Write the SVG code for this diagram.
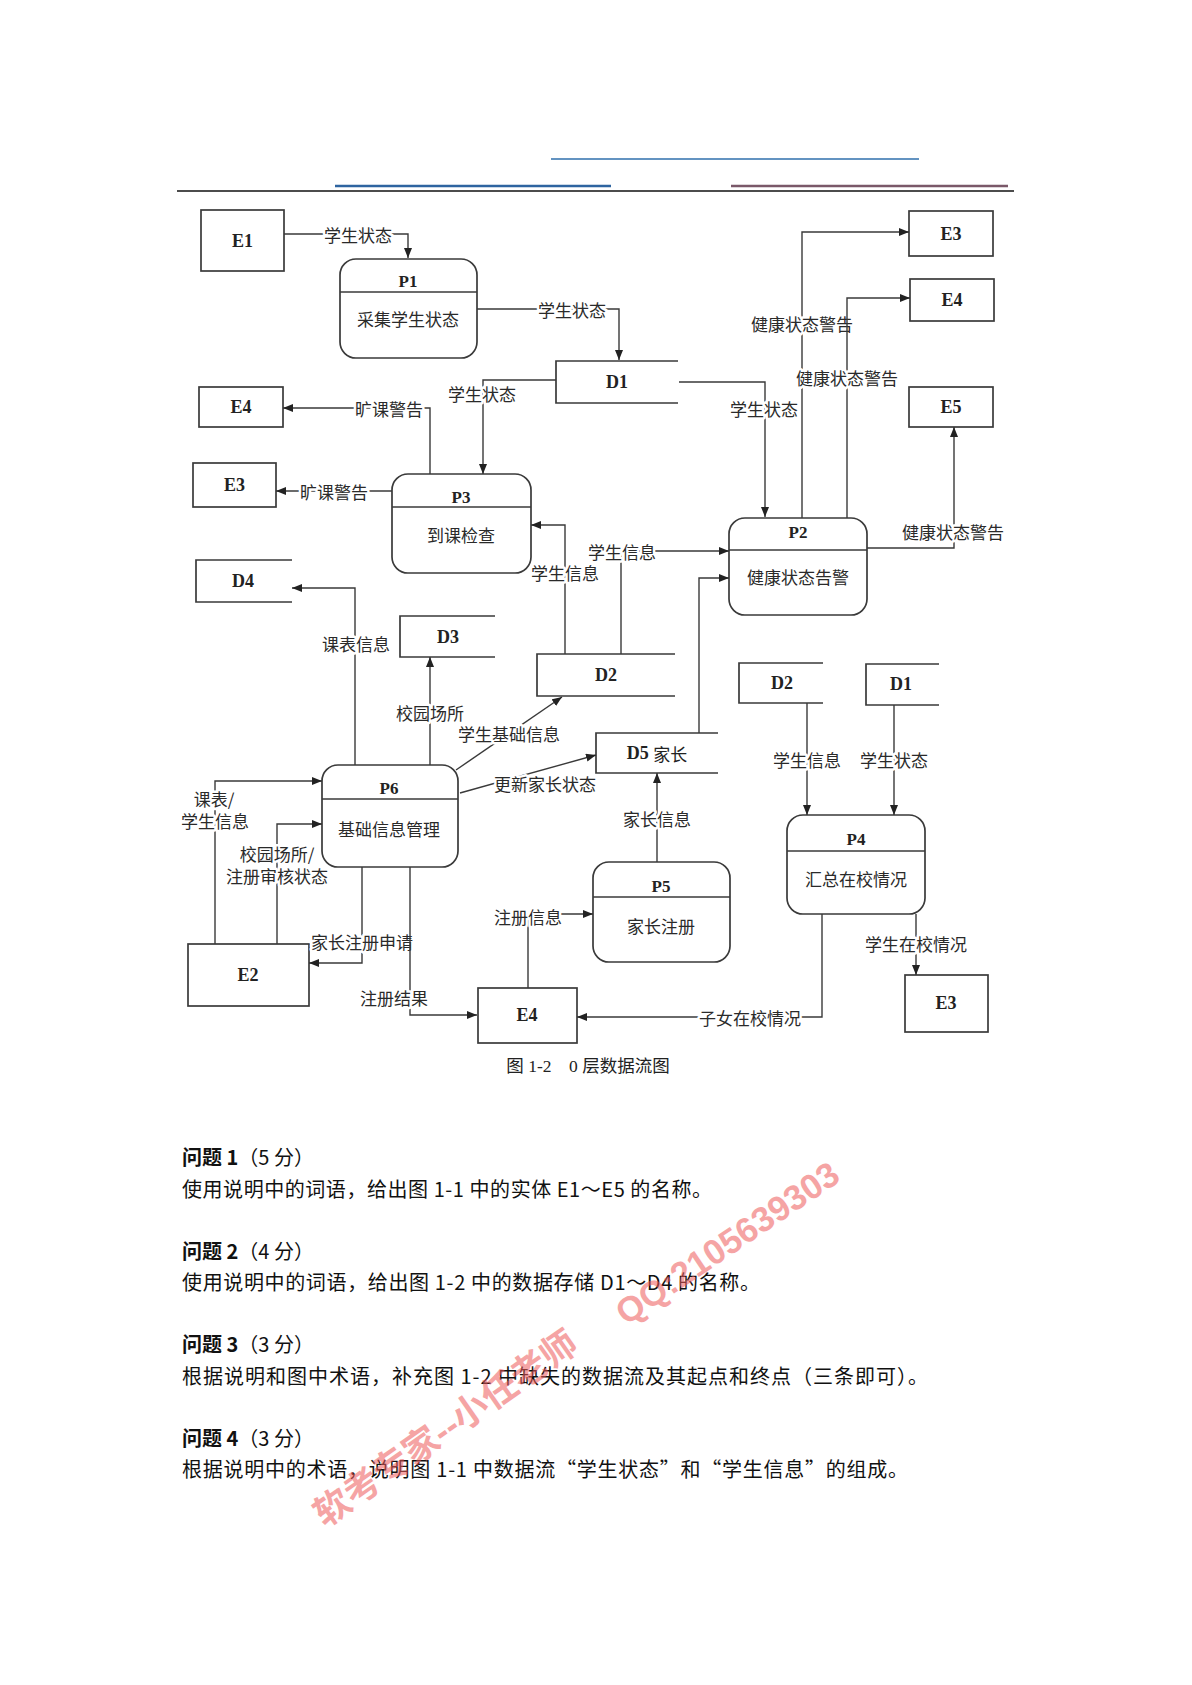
<svg xmlns="http://www.w3.org/2000/svg" width="1192" height="1685" viewBox="0 0 1192 1685">
<defs>
<marker id="ah" viewBox="0 0 10 8" refX="10" refY="4" markerWidth="10" markerHeight="8" markerUnits="userSpaceOnUse" orient="auto">
<path d="M0,0 L10,4 L0,8 z" fill="#222"/>
</marker>
<style>
.box{fill:none;stroke:#3a3a3a;stroke-width:1.7}
.ln{fill:none;stroke:#3a3a3a;stroke-width:1.4}
.ar{marker-end:url(#ah)}
.lbl{font-family:"Noto Sans CJK SC",sans-serif;font-size:17px;fill:#2a2a2a;text-anchor:middle;dominant-baseline:central;stroke:#fff;stroke-width:5;paint-order:stroke;stroke-linejoin:round}
.id{font-family:"Liberation Serif","Noto Sans CJK SC",serif;font-weight:bold;font-size:17px;fill:#222;text-anchor:middle;dominant-baseline:central}
.eid{font-family:"Liberation Serif","Noto Sans CJK SC",serif;font-weight:bold;font-size:18px;fill:#222;text-anchor:middle;dominant-baseline:central}
.nm{font-family:"Noto Sans CJK SC",sans-serif;font-size:17px;fill:#2a2a2a;text-anchor:middle;dominant-baseline:central}
.q{font-family:"Noto Sans CJK SC",sans-serif;font-size:20px;fill:#111}
.wm{font-family:"Liberation Sans","Noto Sans CJK SC",sans-serif;font-weight:bold;fill:#ee5a5a;opacity:0.55}
</style>
</defs>
<rect width="1192" height="1685" fill="#fff"/>
<g id="header">
<line x1="551" y1="159" x2="919" y2="159" stroke="#2f6fad" stroke-width="1.5"/>
<line x1="335" y1="186" x2="611" y2="186" stroke="#2e64a0" stroke-width="2.5"/>
<line x1="731" y1="186" x2="1008" y2="186" stroke="#7a5869" stroke-width="2.5"/>
<line x1="177" y1="191" x2="1014" y2="191" stroke="#111" stroke-width="1.3"/>
</g>
<g id="nodes">
<g id="E1"><rect class="box" x="201" y="210" width="83" height="61"/><text class="eid" x="242.5" y="241">E1</text></g>
<g id="P1"><rect class="box" x="340" y="259" width="137" height="99" rx="16"/><line class="box" x1="340" y1="292" x2="477" y2="292"/><text class="id" x="408" y="281">P1</text><text class="nm" x="408" y="318">采集学生状态</text></g>
<g id="D1"><path class="box" d="M678,361 H556 V403 H678"/><text class="eid" x="617" y="382">D1</text></g>
<g id="E4a"><rect class="box" x="199" y="387" width="84" height="40"/><text class="eid" x="241" y="407">E4</text></g>
<g id="E3a"><rect class="box" x="193" y="463" width="83" height="44"/><text class="eid" x="234.5" y="485">E3</text></g>
<g id="P3"><rect class="box" x="392" y="474" width="139" height="99" rx="16"/><line class="box" x1="392" y1="507" x2="531" y2="507"/><text class="id" x="461" y="497">P3</text><text class="nm" x="461" y="534">到课检查</text></g>
<g id="E3b"><rect class="box" x="909" y="211" width="84" height="45"/><text class="eid" x="951" y="233.5">E3</text></g>
<g id="E4b"><rect class="box" x="910" y="279" width="84" height="42"/><text class="eid" x="952" y="300">E4</text></g>
<g id="E5"><rect class="box" x="909" y="387" width="84" height="40"/><text class="eid" x="951" y="407">E5</text></g>
<g id="P2"><rect class="box" x="729" y="518" width="138" height="97" rx="16"/><line class="box" x1="729" y1="550" x2="867" y2="550"/><text class="id" x="798" y="532">P2</text><text class="nm" x="798" y="576">健康状态告警</text></g>
<g id="D4"><path class="box" d="M292,560 H196 V602 H292"/><text class="eid" x="243" y="581">D4</text></g>
<g id="D3"><path class="box" d="M495,616 H400 V657 H495"/><text class="eid" x="448" y="637">D3</text></g>
<g id="D2a"><path class="box" d="M675,654 H537 V696 H675"/><text class="eid" x="606" y="675">D2</text></g>
<g id="D5"><path class="box" d="M718,733 H596 V773 H718"/><text class="eid" x="657" y="753">D5 <tspan font-family="Noto Sans CJK SC, sans-serif" font-weight="normal" font-size="17">家长</tspan></text></g>
<g id="D2b"><path class="box" d="M823,663 H739 V703 H823"/><text class="eid" x="782" y="683">D2</text></g>
<g id="D1b"><path class="box" d="M939,664 H866 V705 H939"/><text class="eid" x="901" y="684">D1</text></g>
<g id="P6"><rect class="box" x="322" y="765" width="136" height="102" rx="16"/><line class="box" x1="322" y1="799" x2="458" y2="799"/><text class="id" x="389" y="788">P6</text><text class="nm" x="389" y="828">基础信息管理</text></g>
<g id="P4"><rect class="box" x="787" y="815" width="138" height="99" rx="16"/><line class="box" x1="787" y1="851" x2="925" y2="851"/><text class="id" x="856" y="839">P4</text><text class="nm" x="856" y="878">汇总在校情况</text></g>
<g id="P5"><rect class="box" x="593" y="862" width="137" height="100" rx="16"/><line class="box" x1="593" y1="897" x2="730" y2="897"/><text class="id" x="661" y="886">P5</text><text class="nm" x="661" y="925">家长注册</text></g>
<g id="E2"><rect class="box" x="188" y="944" width="121" height="62"/><text class="eid" x="248" y="975">E2</text></g>
<g id="E4c"><rect class="box" x="478" y="988" width="99" height="55"/><text class="eid" x="527" y="1015">E4</text></g>
<g id="E3c"><rect class="box" x="905" y="975" width="83" height="57"/><text class="eid" x="946" y="1003">E3</text></g>
</g>
<g id="connectors">
<path class="ln ar" d="M284,234 H408 V258"/>
<text class="lbl" x="358" y="234">学生状态</text>
<path class="ln ar" d="M477,309 H619 V360"/>
<text class="lbl" x="572" y="309">学生状态</text>
<path class="ln ar" d="M556,380 H483 V474"/>
<text class="lbl" x="482" y="393">学生状态</text>
<path class="ln ar" d="M430,474 V408 H283"/>
<text class="lbl" x="389" y="408">旷课警告</text>
<path class="ln ar" d="M392,491 H276"/>
<text class="lbl" x="334" y="491">旷课警告</text>
<path class="ln ar" d="M679,382 H765 V517"/>
<text class="lbl" x="764" y="408">学生状态</text>
<path class="ln ar" d="M802,518 V232 H909"/>
<text class="lbl" x="802" y="323">健康状态警告</text>
<path class="ln ar" d="M847,518 V298 H910"/>
<text class="lbl" x="847" y="377">健康状态警告</text>
<path class="ln ar" d="M867,548 H954 V427"/>
<text class="lbl" x="953" y="531">健康状态警告</text>
<path class="ln ar" d="M565,654 V525 H531"/>
<text class="lbl" x="565" y="572">学生信息</text>
<path class="ln ar" d="M621,654 V551 H729"/>
<text class="lbl" x="622" y="551">学生信息</text>
<path class="ln ar" d="M699,733 V578 H729"/>
<path class="ln ar" d="M355,765 V588 H292"/>
<text class="lbl" x="356" y="643">课表信息</text>
<path class="ln ar" d="M430,765 V657"/>
<text class="lbl" x="430" y="712">校园场所</text>
<path class="ln ar" d="M456,770 L562,697"/>
<text class="lbl" x="509" y="733">学生基础信息</text>
<path class="ln ar" d="M460,793 L596,755"/>
<text class="lbl" x="545" y="783">更新家长状态</text>
<path class="ln ar" d="M657,862 V773"/>
<text class="lbl" x="657" y="818">家长信息</text>
<path class="ln ar" d="M807,703 V815"/>
<text class="lbl" x="807" y="759">学生信息</text>
<path class="ln ar" d="M894,705 V815"/>
<text class="lbl" x="894" y="759">学生状态</text>
<path class="ln ar" d="M916,914 V975"/>
<text class="lbl" x="916" y="943">学生在校情况</text>
<path class="ln ar" d="M822,914 V1017 H577"/>
<text class="lbl" x="750" y="1017">子女在校情况</text>
<path class="ln ar" d="M215,944 V781 H322"/>
<text class="lbl" x="214" y="798">课表/</text>
<text class="lbl" x="215" y="820">学生信息</text>
<path class="ln ar" d="M277,944 V824 H322"/>
<text class="lbl" x="277" y="853">校园场所/</text>
<text class="lbl" x="277" y="875">注册审核状态</text>
<path class="ln ar" d="M362,867 V963 H309"/>
<text class="lbl" x="362" y="941">家长注册申请</text>
<path class="ln ar" d="M410,867 V1015 H477"/>
<text class="lbl" x="394" y="997">注册结果</text>
<path class="ln ar" d="M528,988 V914 H593"/>
<text class="lbl" x="528" y="916">注册信息</text>
</g>
<g id="caption">
<text x="588" y="1072" text-anchor="middle" font-family="Liberation Serif, Noto Sans CJK SC, serif" font-size="17.5" fill="#222">图 1-2　0 层数据流图</text>
</g>
<g id="questions">
<text class="q" x="182" y="1165"><tspan font-weight="bold">问题 1</tspan>（5 分）</text>
<text class="q" x="182" y="1197" textLength="530" lengthAdjust="spacing">使用说明中的词语，给出图 1-1 中的实体 E1～E5 的名称。</text>
<text class="q" x="182" y="1259"><tspan font-weight="bold">问题 2</tspan>（4 分）</text>
<text class="q" x="182" y="1290" textLength="578" lengthAdjust="spacing">使用说明中的词语，给出图 1-2 中的数据存储 D1～D4 的名称。</text>
<text class="q" x="182" y="1352"><tspan font-weight="bold">问题 3</tspan>（3 分）</text>
<text class="q" x="182" y="1384" textLength="746" lengthAdjust="spacing">根据说明和图中术语，补充图 1-2 中缺失的数据流及其起点和终点（三条即可）。</text>
<text class="q" x="182" y="1446"><tspan font-weight="bold">问题 4</tspan>（3 分）</text>
<text class="q" x="182" y="1477" textLength="726" lengthAdjust="spacing">根据说明中的术语，说明图 1-1 中数据流“学生状态”和“学生信息”的组成。</text>
</g>
<g id="watermarks">
<text class="wm" x="626" y="1326" font-size="35" transform="rotate(-34 626 1326)">QQ:2105639303</text>
<text class="wm" x="325" y="1528" font-size="36" transform="rotate(-35 325 1528)">软考专家--小任老师</text>
</g>
</svg>
